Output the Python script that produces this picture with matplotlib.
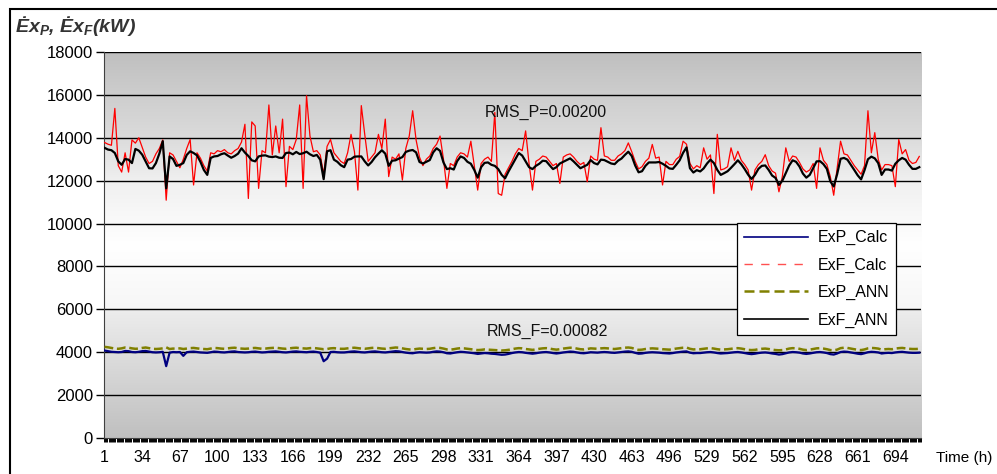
import numpy as np
import matplotlib
matplotlib.use("Agg")
import matplotlib.pyplot as plt
from matplotlib.lines import Line2D
from matplotlib.patches import Rectangle

plt.rcParams['font.family'] = ['Liberation Sans', 'DejaVu Sans']
plt.rcParams['mathtext.fontset'] = 'custom'
plt.rcParams['mathtext.it'] = 'Liberation Sans:bold:italic'
plt.rcParams['mathtext.rm'] = 'Liberation Sans:bold:italic'

hours = list(range(1, 716, 3))

exf_ann = [
    13530, 13450, 13420, 13290, 12900, 12740, 13010, 12980, 12820, 13480,
    13400, 13210, 12900, 12580, 12570, 12820, 13260, 13840, 11640, 13130,
    13010, 12690, 12740, 12820, 13200, 13370, 13290, 13180, 12880, 12500,
    12270, 13060, 13130, 13150, 13230, 13280, 13170, 13070, 13150, 13260,
    13510, 13310, 13150, 12950, 12900, 13130, 13170, 13180, 13120, 13100,
    13130, 13070, 13060, 13290, 13310, 13230, 13340, 13240, 13280, 13350,
    13230, 13150, 13200, 12980, 12070, 13370, 13420, 12980, 12880, 12720,
    12630, 12980, 13010, 13120, 13130, 13130, 12900, 12710, 12870, 13090,
    13260, 13420, 13260, 12690,
    12930, 12950, 13030, 13100, 13340, 13400, 13430, 13320, 12870, 12800,
    12880, 12960, 13320, 13510, 13390, 12850, 12540, 12580, 12520, 12910,
    13130, 13060, 12880, 12790, 12500, 12140, 12630, 12830, 12850, 12740,
    12690, 12540, 12270, 12110, 12430, 12720, 13010, 13290, 13170, 12900,
    12630, 12540, 12690, 12790, 12930, 12910, 12720, 12540, 12630, 12800,
    12880, 12960, 13040, 12900, 12740, 12580, 12660, 12740, 12960, 12820,
    12760, 12980, 12960, 12880, 12800, 12770, 12930, 13030, 13200, 13350,
    13150, 12710, 12390, 12440, 12690, 12850, 12850, 12850, 12870, 12790,
    12690, 12570, 12550, 12740, 12950,
    13300, 13550, 12580, 12380, 12490, 12430, 12570, 12800, 12980, 12820,
    12500, 12270, 12350, 12440, 12600, 12770, 12950, 12770, 12540, 12280,
    12080, 12270, 12550, 12690, 12710, 12500, 12240, 12130, 11800, 12000,
    12350, 12710, 12950, 12880, 12660, 12330, 12140, 12270, 12580, 12900,
    12910, 12770, 12550, 11970, 11730, 12300, 13020, 13060, 12980, 12740,
    12500, 12250, 12060, 12490, 13000, 13120, 13040, 12820, 12270, 12520,
    12520, 12470, 12790, 12950, 13060, 12980, 12740, 12550, 12550, 12630,
]

exf_calc = [
    13780, 13700, 13650, 15370, 12700, 12400, 13300, 12400, 13900, 13750,
    14000, 13550, 13100, 12800, 12900, 13250, 13500, 13900, 11090, 13300,
    13200, 12900, 12600, 13000, 13500, 13920, 11800, 13300, 13050, 12700,
    12450, 13300, 13250, 13400, 13350, 13450, 13300, 13250, 13400, 13500,
    13800, 14630, 11170, 14740, 14550, 11640, 13400, 13300, 15530, 13200,
    14550, 13300, 14870, 11720, 13600, 13450, 13920, 15530, 11640, 15960,
    14080, 13350, 13400, 13200, 12300, 13600, 13920, 13300, 13100, 12900,
    12800, 13300, 14160, 13350, 11560, 15500, 14160, 12900, 13100, 13300,
    14160, 13500, 14870, 12190,
    13100, 13000, 13250, 12030, 13500, 14080, 15260, 13900, 13100, 12700,
    13000, 13150, 13500, 13700, 14080, 13000, 11640, 12800, 12700, 13100,
    13300, 13250, 13100, 13840, 12700, 11560, 12800, 13000, 13100, 12900,
    15180, 11400, 11320, 12300, 12600, 12900, 13250, 13500, 13400, 14320,
    12800, 11560, 12900, 13000, 13150, 13100, 12900, 12700, 12800, 11870,
    13100, 13200, 13250, 13100, 12900, 12750, 12850, 11950, 13150, 13000,
    12950, 14470, 13150, 13100, 12950, 12950, 13150, 13250, 13400, 13760,
    13350, 12900, 12550, 12650, 12900, 13050, 13690, 13050, 13100, 11800,
    12900, 12750, 12750, 13000, 13130,
    13840, 13700, 12800, 12550, 12700, 12600, 13530, 13000, 13200, 11400,
    14160, 12500, 12550, 12650, 13530, 12950, 13370, 12950, 12750, 12500,
    11560, 12500, 12750, 12900, 13210, 12700, 12450, 12350, 11480, 12200,
    13530, 12900, 13150, 13100, 12850, 12550, 12400, 12500, 12800, 11640,
    13530, 12950, 12750, 12200, 11320, 12600, 13840, 13250, 13200, 12950,
    12700, 12500, 12300, 12700, 15260, 13300, 14240, 13000, 12500, 12750,
    12750, 12700, 11720, 13920, 13250, 13450, 12950, 12800, 12850, 13130,
]

exp_calc = [
    4080, 4050, 4020, 4010, 4000, 4010, 4060, 4050, 4010, 4000,
    4020, 4050, 4060, 4030, 4000, 3990, 4000, 4020, 3350, 3980,
    4010, 4000, 4010, 3830, 4000, 4020, 4030, 4010, 3990, 3980,
    3970, 4000, 4030, 4020, 4000, 3990, 4010, 4030, 4040, 4010,
    4000, 3990, 4000, 4020, 4030, 4010, 3990, 4000, 4020, 4030,
    4040, 4020, 4000, 3990, 4010, 4030, 4040, 4020, 4010, 4000,
    4020, 4030, 4010, 3980, 3580, 3700, 4010, 4020, 4000, 3990,
    3990, 4010, 4030, 4040, 4020, 4000, 3990, 4010, 4030, 4040,
    4020, 4000, 3990, 4010,
    4030, 4050, 4040, 4010, 3980, 3960, 3950, 3980, 4000, 3990,
    3980, 3990, 4020, 4040, 4030, 4000, 3950, 3940, 3970, 4000,
    4020, 4010, 3990, 3970, 3950, 3920, 3940, 3960, 3950, 3930,
    3920, 3900, 3880, 3890, 3920, 3960, 3990, 4010, 4000, 3970,
    3950, 3930, 3950, 3980, 4000, 4010, 3990, 3960, 3940, 3960,
    3990, 4010, 4030, 4020, 3990, 3960, 3950, 3970, 4000, 3990,
    3980, 4000, 4010, 4000, 3980, 3970, 3990, 4010, 4030, 4040,
    4020, 3970, 3930, 3940, 3970, 3990, 4000, 3990, 3980, 3960,
    3950, 3940, 3960, 3990, 4010,
    4030, 4040, 3980, 3950, 3960, 3960, 3980, 4000, 4010, 3990,
    3960, 3940, 3950, 3960, 3980, 4000, 4010, 3990, 3960, 3930,
    3910, 3930, 3960, 3980, 3990, 3970, 3940, 3920, 3890, 3910,
    3950, 3990, 4010, 4000, 3980, 3940, 3920, 3940, 3970, 4000,
    4010, 3990, 3960, 3910, 3890, 3940, 4010, 4030, 4020, 3990,
    3960, 3930, 3910, 3950, 4000, 4020, 4010, 3990, 3940, 3960,
    3970, 3960, 3990, 4010, 4020, 4000, 3980, 3970, 3970, 3980,
]

exp_ann = [
    4250, 4230, 4200, 4170, 4160, 4180, 4220, 4210, 4180, 4160,
    4170, 4200, 4220, 4190, 4160, 4150, 4160, 4180, 4230, 4150,
    4170, 4160, 4180, 4150, 4170, 4190, 4200, 4180, 4160, 4150,
    4140, 4170, 4200, 4190, 4170, 4160, 4180, 4200, 4210, 4180,
    4170, 4160, 4170, 4190, 4200, 4180, 4160, 4170, 4190, 4200,
    4210, 4190, 4170, 4160, 4180, 4200, 4210, 4190, 4180, 4170,
    4190, 4200, 4180, 4160, 4140, 4150, 4180, 4190, 4170, 4160,
    4160, 4180, 4200, 4210, 4190, 4170, 4160, 4180, 4200, 4210,
    4190, 4170, 4160, 4180,
    4200, 4220, 4210, 4180, 4150, 4130, 4120, 4150, 4170, 4160,
    4150, 4160, 4190, 4210, 4200, 4170, 4130, 4120, 4140, 4170,
    4190, 4180, 4160, 4140, 4120, 4100, 4110, 4130, 4120, 4110,
    4100, 4090, 4080, 4090, 4110, 4140, 4170, 4190, 4180, 4150,
    4130, 4110, 4130, 4160, 4180, 4190, 4170, 4140, 4120, 4140,
    4170, 4190, 4210, 4200, 4170, 4140, 4130, 4150, 4180, 4170,
    4160, 4180, 4190, 4180, 4160, 4150, 4170, 4190, 4210, 4220,
    4200, 4150, 4110, 4120, 4150, 4170, 4180, 4170, 4160, 4140,
    4130, 4120, 4140, 4170, 4190,
    4210, 4220, 4160, 4130, 4140, 4140, 4160, 4180, 4190, 4170,
    4140, 4120, 4130, 4140, 4160, 4180, 4190, 4170, 4140, 4110,
    4100, 4110, 4140, 4160, 4170, 4150, 4120, 4100, 4090, 4100,
    4130, 4170, 4190, 4180, 4160, 4120, 4100, 4120, 4150, 4180,
    4190, 4170, 4140, 4100, 4090, 4120, 4190, 4210, 4200, 4170,
    4140, 4110, 4100, 4130, 4180, 4200, 4190, 4170, 4120, 4140,
    4150, 4140, 4170, 4190, 4200, 4180, 4160, 4150, 4150, 4160,
]

series_names = ["ExP_Calc", "ExF_Calc", "ExP_ANN", "ExF_ANN"]
x_tick_labels = list(range(1, 716, 33))
y_ticks = list(range(0, 18001, 2000))
rms_texts = ["RMS_P=0.00200", "RMS_F=0.00082"]

# ---------------- figure ----------------
W, H = 997, 474
fig = plt.figure(figsize=(W / 100, H / 100), dpi=100)
ax = fig.add_axes([104 / W, 1 - 438 / H, (921 - 104) / W, (438 - 52) / H])

x_lo, x_hi = 0.5, 716.5
ax.set_xlim(x_lo, x_hi)
ax.set_ylim(0, 18000)

# plot-area gradient background
vals = np.linspace(0, 18000, 1801)
g = np.where(vals < 6000,
             np.interp(vals, [0, 5999], [0.75, 0.93]),
             np.interp(vals, [6000, 9000, 12000, 14000, 18000], [0.965, 1.0, 0.94, 0.86, 0.75]))
img = np.repeat(g[:, None], 3, axis=1)[:, None, :] * np.ones((1, 2, 1))
ax.imshow(img, extent=[x_lo, x_hi, 0, 18000], origin='lower', aspect='auto',
          interpolation='bilinear', zorder=0)

for yv in y_ticks[1:]:
    ax.axhline(yv, color='black', lw=1.0, zorder=1)

# series (Excel order: later series on top)
ax.plot(hours, exp_calc, color='#000080', lw=1.6, zorder=3)
ax.plot(hours, exf_calc, color='#ff0000', lw=0.9, zorder=3)
ax.plot(hours, exp_ann, color='#808000', lw=1.8, ls=(0, (3.5, 1.5)), zorder=4)
ax.plot(hours, exf_ann, color='black', lw=1.6, zorder=4)

ax.text(388, 15200, rms_texts[0], ha='center', va='center', fontsize=11.5, color='#111111')
ax.text(389, 4990, rms_texts[1], ha='center', va='center', fontsize=11.5, color='#111111')

# axes styling
for s in ['top', 'right']:
    ax.spines[s].set_visible(False)
ax.spines['left'].set_color('#404040')
ax.spines['bottom'].set_color('#404040')
ax.set_yticks(y_ticks)
ax.set_yticklabels([str(v) for v in y_ticks], fontsize=12)
ax.tick_params(axis='y', direction='out', length=6, width=1, pad=2, colors='black')
ax.set_xticks(x_tick_labels)
ax.set_xticklabels([str(v) for v in x_tick_labels], fontsize=11.5)
ax.tick_params(axis='x', which='major', length=0, pad=9)
ax.set_xticks(np.arange(x_lo, x_hi + 0.01, 1.0), minor=True)
ax.tick_params(axis='x', which='minor', direction='out', length=3, width=0.7, colors='black')

# legend
handles = [
    Line2D([], [], color='#000080', lw=1.2),
    Line2D([], [], color='#ff5050', lw=1.0, ls=(0, (6, 6))),
    Line2D([], [], color='#808000', lw=1.8, ls=(0, (4, 2))),
    Line2D([], [], color='black', lw=1.2),
]
leg = ax.legend(handles, series_names, loc='upper left',
                bbox_to_anchor=(737 / W, 1 - 223 / H), bbox_transform=fig.transFigure,
                fontsize=11.5, frameon=True, fancybox=False, shadow=False,
                edgecolor='black', framealpha=1, handlelength=4.0, handletextpad=0.6,
                labelspacing=0.77, borderpad=0.45, borderaxespad=0)
leg.get_frame().set_linewidth(0.9)
leg.set_zorder(10)

# y title and x title
fig.text(15 / W, 1 - 26 / H, "Ėx$_{P}$, Ėx$_{F}$(kW)", fontsize=14, fontweight='bold',
         fontstyle='italic', ha='left', va='center', color='#333333')
fig.text(964 / W, 1 - 458 / H, "Time (h)", fontsize=11, ha='center', va='center')

# outer frame
fig.patches.append(Rectangle((10 / W, -0.02), 1.2, (1 - 9 / H) + 0.02, transform=fig.transFigure,
                             fill=False, edgecolor='black', lw=1.5, zorder=20))

fig.savefig("out.png", dpi=100)
